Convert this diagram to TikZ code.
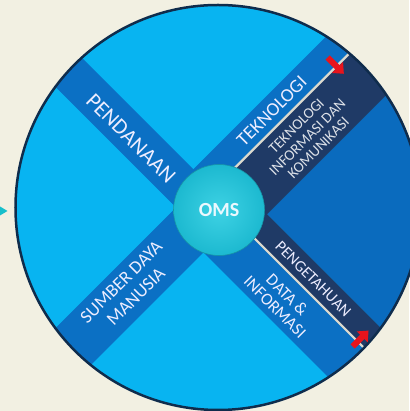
\documentclass[tikz,border=0pt]{standalone}
\usepackage{fontspec}
\setmainfont{Carlito}
\usetikzlibrary{arrows.meta}
\definecolor{cream}{HTML}{F2F0E2}
\definecolor{skyblue}{HTML}{08B4F1}
\definecolor{bandblue}{HTML}{0B70C4}
\definecolor{quadblue}{HTML}{0A6BBE}
\definecolor{navy}{HTML}{1F3A66}
\definecolor{rimnavy}{HTML}{0F2C4C}
\definecolor{arrowred}{HTML}{E8141C}
\definecolor{seamgray}{HTML}{DCDACE}
\definecolor{pointer}{HTML}{17BFCB}
\definecolor{omsin}{HTML}{3ED2E4}
\definecolor{omsout}{HTML}{1CB9D0}

\begin{document}
\begin{tikzpicture}[x=1pt,y=1pt,
    bandtext/.style={text=white!93!blue, inner sep=0pt, align=center},
    seam/.style={seamgray, line width=2.2pt},
    redarrow/.style={arrowred, line width=6pt, -{Triangle[width=15pt,length=9pt]}}]
    \useasboundingbox (-219,-201) rectangle (190,210);
    \fill[cream] (-219,-201) rectangle (190,210);
    \fill[pointer] (-219,3.5) -- (-211.5,-1) -- (-219,-5.5) -- cycle;
    \begin{scope}
        \clip (-1,2.5) circle (202.5);
        \fill[skyblue] (-1,2.5) circle (202.5);
        \fill[quadblue] (48.1,-4.2) -- ++(300,300) -- ++(0,-600) -- cycle;
        \begin{scope}[rotate=45]
            \fill[bandblue] (-260,-19) rectangle (0,32);
            \fill[bandblue] (0,18.6) rectangle (260,47);
            \fill[navy] (0,-37) rectangle (260,18.6);
            \draw[seam] (30,18.6) -- (215,18.6);
        \end{scope}
        \begin{scope}[rotate=-45]
            \fill[bandblue] (-260,-28.5) rectangle (0,10.7);
            \fill[bandblue] (0,-41) rectangle (260,5);
            \fill[navy] (0,5) rectangle (260,31);
            \draw[seam] (30,5) -- (215,5);
        \end{scope}
    \end{scope}
    \draw[rimnavy, line width=2.5pt] (-1,2.5) circle (202.5);
    \begin{scope}[rotate=45]
        \draw[redarrow] (184.6,31) -- (184.6,8);
    \end{scope}
    \begin{scope}[rotate=-45]
        \draw[redarrow] (191,-2) -- (191,20.5);
    \end{scope}
    \node[circle, minimum size=91pt, inner sep=0pt, draw=omsout!80!black, line width=0.6pt,
        inner color=omsin, outer color=omsout,
        text=white!92!cyan, font=\bfseries\fontsize{20}{24}\selectfont] (oms) at (0,0) {OMS};
    \begin{scope}[rotate=-45, transform shape]
        \node[bandtext, font=\fontsize{22}{26}\selectfont] (pendanaan) at (-113,-11.5) {PENDANAAN};
        \node[bandtext, font=\fontsize{16}{19}\selectfont] (pengetahuan) at (115.5,17.9) {PENGETAHUAN};
        \node[bandtext, font=\fontsize{17}{17.2}\selectfont] (data) at (108.3,-20.3) {DATA \&\\INFORMASI};
    \end{scope}
    \begin{scope}[rotate=45, transform shape]
        \node[bandtext, font=\fontsize{19}{22}\selectfont] (teknologi) at (107.3,32.7) {TEKNOLOGI};
        \node[bandtext, text=white!85!navy, font=\fontsize{15}{15.6}\selectfont] (tik) at (114,-11)
            {TEKNOLOGI\\INFORMASI DAN\\KOMUNIKASI};
        \node[bandtext, font=\fontsize{18.4}{20.7}\selectfont] (sdm) at (-120,7.9) {SUMBER DAYA\\MANUSIA};
    \end{scope}
\end{tikzpicture}
\end{document}
